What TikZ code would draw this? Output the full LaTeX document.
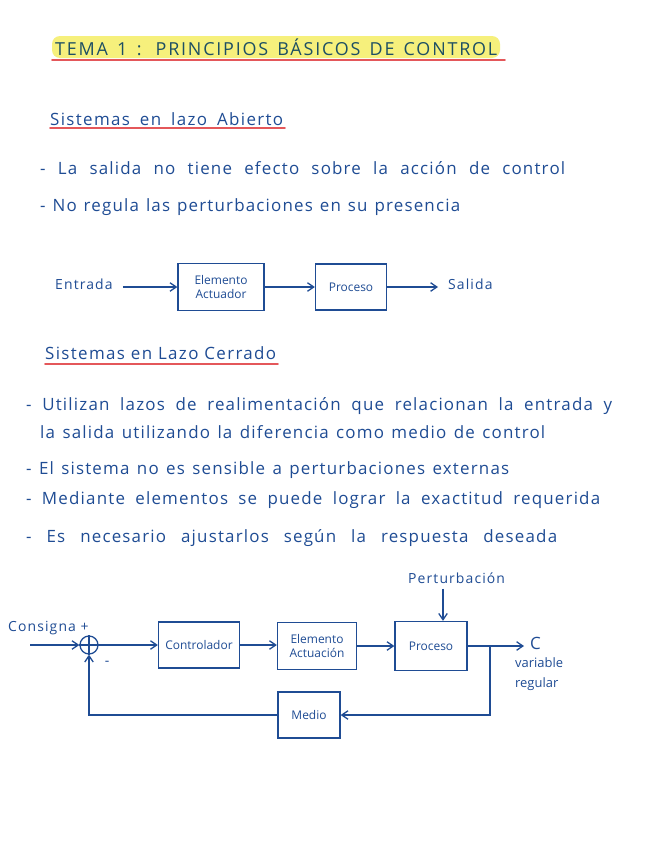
\documentclass[tikz,border=0pt]{standalone}
\usepackage{fontspec}
\setmainfont{Open Sans}
\usetikzlibrary{arrows.meta,positioning}
\definecolor{lzInk}{HTML}{1F4C94}
\definecolor{lzTitle}{HTML}{1D4F63}
\definecolor{lzMark}{HTML}{F6F07C}
\definecolor{lzRed}{HTML}{E4575A}
\newcommand{\fitline}[2]{\makebox[#1][s]{#2}}
\tikzset{
  lz title/.style={font=\fontsize{18}{21}\selectfont\addfontfeatures{LetterSpace=10},
    text=lzTitle, anchor=west, inner sep=0pt},
  lz head/.style={font=\fontsize{17}{20}\selectfont\addfontfeatures{LetterSpace=8},
    text=lzInk, anchor=west, inner sep=0pt},
  lz text/.style={font=\fontsize{17}{20}\selectfont\addfontfeatures{LetterSpace=7},
    text=lzInk, anchor=west, inner sep=0pt},
  lz small/.style={font=\fontsize{14}{16}\selectfont\addfontfeatures{LetterSpace=8},
    text=lzInk, inner sep=0pt},
  lz underline/.style={draw=lzRed, line width=1.6bp, line cap=round},
  lz block/.style={draw=lzInk, line width=1.3bp, text=lzInk,
    font=\fontsize{12}{14}\selectfont, align=center, inner sep=2bp},
  lz sum/.style={draw=lzInk, line width=1.3bp, circle, minimum size=18bp, inner sep=0pt},
  lz flow/.style={draw=lzInk, line width=1.3bp, -{Straight Barb[length=2.2mm,width=3mm]}},
  lz line/.style={draw=lzInk, line width=1.3bp}
}
\begin{document}
\begin{tikzpicture}[x=1bp,y=-1bp]
  \useasboundingbox[fill=white] (0,0) rectangle (656,848);

  % title
  \fill[lzMark, rounded corners=8bp] (52,36) rectangle (500,58);
  \node[lz title] (title) at (55,47) {\fitline{442bp}{TEMA 1 : PRINCIPIOS BÁSICOS DE CONTROL}};
  \draw[lz underline] (52,60) -- (505,60);

  % lazo abierto
  \node[lz head] (hopen) at (50,119) {\fitline{233bp}{Sistemas en lazo Abierto}};
  \draw[lz underline] (50,128) -- (285,128);
  \node[lz text] (b1) at (40,168) {\fitline{525bp}{- La salida no tiene efecto sobre la acción de control}};
  \node[lz text] (b2) at (40,207) {\fitline{420bp}{- No regula las perturbaciones en su presencia}};

  \node[lz small, anchor=west] (entrada) at (55,284) {Entrada};
  \node[lz block, minimum width=86bp, minimum height=47bp] (act) at (221,287) {Elemento\\Actuador};
  \node[lz block, minimum width=71bp, minimum height=46bp] (proc) at (351,287) {Proceso};
  \node[lz small, anchor=west] (salida) at (448,284) {Salida};
  \draw[lz flow, shorten <=10bp] (entrada.east |- act.west) -- (act.west);
  \draw[lz flow] (act.east) -- (proc.west);
  \draw[lz flow, shorten >=10bp] (proc.east) -- (proc.east -| salida.west);

  % lazo cerrado
  \node[lz head] (hclosed) at (45,353) {\fitline{231bp}{Sistemas en Lazo Cerrado}};
  \draw[lz underline] (45,364) -- (278,364);
  \node[lz text] (c1) at (26,406) {\fitline{586bp}{- Utilizan lazos de realimentación que relacionan la entrada y}};
  \node[lz text] (c1b) at (40,432) {\fitline{505bp}{la salida utilizando la diferencia como medio de control}};
  \node[lz text] (c2) at (26,470) {\fitline{483bp}{- El sistema no es sensible a perturbaciones externas}};
  \node[lz text] (c3) at (26,500) {\fitline{574bp}{- Mediante elementos se puede lograr la exactitud requerida}};
  \node[lz text] (c4) at (26,538) {\fitline{531bp}{- Es necesario ajustarlos según la respuesta deseada}};

  % diagrama
  \node[lz small, anchor=west] (consigna) at (8,628) {Consigna +};
  \node[lz sum] (sum) at (89,645) {};
  \draw[lz line] (sum.north) -- (sum.south) (sum.west) -- (sum.east);
  \node[lz small] (minus) at (107,663) {-};
  \node[lz block, minimum width=81bp, minimum height=46bp] (ctrl) at (199,645) {Controlador};
  \node[lz block, minimum width=79bp, minimum height=47bp] (elem) at (317,646) {Elemento\\Actuación};
  \node[lz block, minimum width=72bp, minimum height=49bp] (proc2) at (431,646) {Proceso};
  \node[lz block, minimum width=62bp, minimum height=46bp] (medio) at (309,715) {Medio};
  \node[lz small, anchor=west] (pert) at (408,578) {Perturbación};
  \node[lz small, anchor=west, font=\fontsize{17}{19}\selectfont] (cout) at (530,643) {C};
  \node[lz small, anchor=north west, align=left, font=\fontsize{13}{21}\selectfont] (var) at (515,657) {variable\\regular};
  \coordinate (inp) at (30,645);
  \coordinate (branch) at (490,646);

  \draw[lz flow] (inp) -- (sum.west);
  \draw[lz flow] (sum.east) -- (ctrl.west);
  \draw[lz flow] (ctrl.east) -- (ctrl.east -| elem.west);
  \draw[lz flow] (elem.east) -- (elem.east -| proc2.west);
  \draw[lz flow] ([xshift=12bp]proc2.north |- pert.south) ++(0,5) -- ([xshift=12bp]proc2.north);
  \draw[lz flow, shorten >=6bp] (proc2.east) -- (proc2.east -| cout.west);
  \draw[lz flow] (branch) |- (medio.east);
  \draw[lz flow] (medio.west) -| (sum.south);
\end{tikzpicture}
\end{document}
